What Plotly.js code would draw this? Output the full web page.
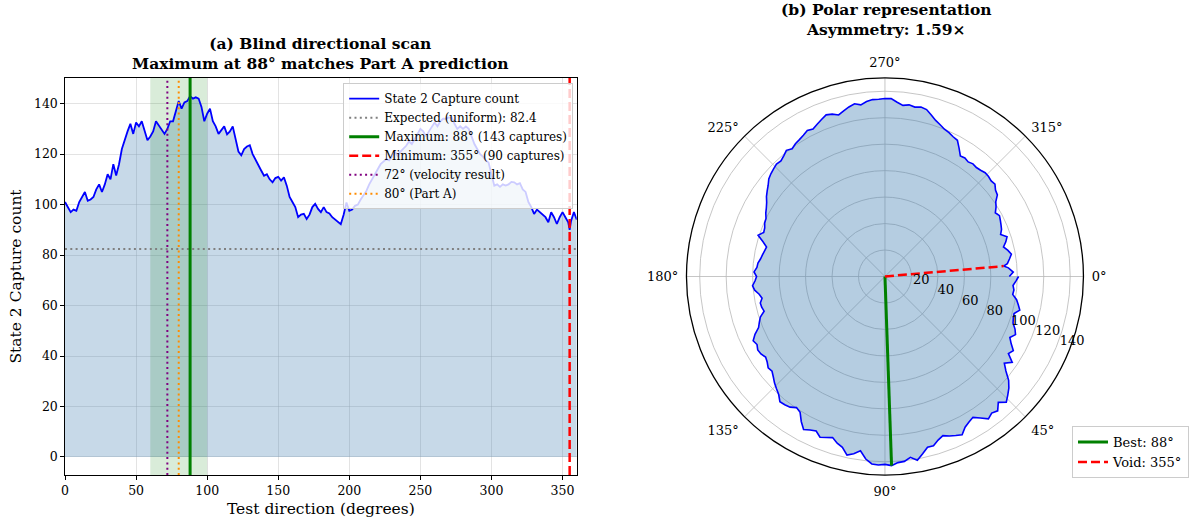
<!DOCTYPE html>
<html>
<head>
<meta charset="utf-8">
<script src="https://cdn.plot.ly/plotly-3.0.1.min.js"></script>
<style>html,body{margin:0;padding:0;background:#fff;}#chart{width:1191px;height:522px;}</style>
</head>
<body>
<div id="chart"></div>
<script>
// Test directions (degrees)
const directions = [0,2,4,6,8,10,12,14,16,18,20,22,24,26,28,30,32,34,36,38,40,42,44,46,48,50,52,54,56,58,
60,62,64,66,68,70,72,74,76,78,80,82,84,86,88,90,92,94,96,98,100,102,104,106,108,110,112,114,116,118,
120,122,124,126,128,130,132,134,136,138,140,142,144,146,148,150,152,154,156,158,160,162,164,166,168,170,172,174,176,178,
180,182,184,186,188,190,192,194,196,198,200,202,204,206,208,210,212,214,216,218,220,222,224,226,228,230,232,234,236,238,
240,242,244,246,248,250,252,254,256,258,260,262,264,266,268,270,272,274,276,278,280,282,284,286,288,290,292,294,296,298,
300,302,304,306,308,310,312,314,316,318,320,322,324,326,328,330,332,334,336,338,340,342,344,346,348,350,352,354,355,356,358,360];
// State 2 capture counts
const captures = [101,99,97,98,97.5,101,103,105,101.5,102,103,106,108,105,108,112,110,116,111.5,116,
122,126,129,132,128,132.5,131,133,129,125.5,127,129,133,131.5,130,128,130,133,133,137,
141,138,140.5,141,143,142,142.5,142,138.7,133,136,138,133,131,128,129.5,131,127.8,129,131,
126.5,121,119.5,122,123,123.5,120,118,116,113.5,111.4,112,110,108.8,110.5,111,109.5,110.8,107.5,103,
101,99,95,96,96.3,94.3,96,99,100.3,98.3,97,99,97,96.5,95,94,93,92.2,96,100.8,
97.5,98,99.5,100,102,103.5,105.4,108,110,112,114.6,116,117,118,117.5,119,121,119.3,121,122,
123.3,125,124,126,128,130,129,127,129,131,132.5,131,133,134,134,134.5,134.5,132,130,131,
130,131,130,127,124,122,120,119,117.5,116.6,112,107.5,108,107,108,107.5,108,109,108.8,108,
108.5,106,105,101,99,96.3,98,97,96,95,93,97,95,92.3,95,97,95,93,90,93.5,97,94];

const expectedUniform = 82.4;
const bestDir = 88, bestCount = 143;
const voidDir = 355, voidCount = 90;
const velocityDir = 72;
const partADir = 80;
const bandRange = [60, 100];
const yRange = [-7.15, 150.15];
const xRange = [0, 360];
const xTicks = [0,50,100,150,200,250,300,350];
const yTicks = [0,20,40,60,80,100,120,140];
const angTicks = [0,45,90,135,180,225,270,315];
const radTicks = [20,40,60,80,100,120,140];

const FONT = 'DejaVu Serif';
const dot = '2px,3.3px';

const traces = [
  {x: directions, y: captures, type:'scatter', mode:'lines', fill:'tozeroy',
   fillcolor:'rgba(70,130,180,0.3)', line:{width:0, color:'rgba(0,0,0,0)'}, showlegend:false, hoverinfo:'skip'},
  {x:[bandRange[0],bandRange[1],bandRange[1],bandRange[0],bandRange[0]], y:[yRange[0],yRange[0],yRange[1],yRange[1],yRange[0]],
   type:'scatter', mode:'lines', fill:'toself', fillcolor:'rgba(0,128,0,0.15)', line:{width:0,color:'rgba(0,0,0,0)'}, showlegend:false, hoverinfo:'skip'},
  {x: directions, y: captures, type:'scatter', mode:'lines', name:'State 2 Capture count', line:{color:'blue', width:1.8}},
  {x: xRange, y:[expectedUniform, expectedUniform], type:'scatter', mode:'lines', name:'Expected (uniform): ' + expectedUniform,
   line:{color:'gray', width:2, dash:dot}},
  {x:[bestDir,bestDir], y:yRange, type:'scatter', mode:'lines', name:'Maximum: '+bestDir+'° ('+bestCount+' captures)',
   line:{color:'green', width:3}},
  {x:[voidDir,voidDir], y:yRange, type:'scatter', mode:'lines', name:'Minimum: '+voidDir+'° ('+voidCount+' captures)',
   line:{color:'red', width:2.5, dash:'9px,4px'}},
  {x:[velocityDir,velocityDir], y:yRange, type:'scatter', mode:'lines', name:velocityDir+'° (velocity result)',
   line:{color:'purple', width:2, dash:dot}},
  {x:[partADir,partADir], y:yRange, type:'scatter', mode:'lines', name:partADir+'° (Part A)',
   line:{color:'darkorange', width:2, dash:dot}},
  // polar
  {type:'scatterpolar', theta: directions, r: captures, mode:'lines', fill:'toself',
   fillcolor:'rgba(70,130,180,0.4)', line:{color:'blue', width:1.6}, showlegend:false, subplot:'polar'},
  {type:'scatterpolar', theta:[bestDir,bestDir], r:[0,bestCount], mode:'lines', name:'Best: '+bestDir+'°',
   line:{color:'green', width:3}, legend:'legend2', subplot:'polar'},
  {type:'scatterpolar', theta:[voidDir,voidDir], r:[0,voidCount], mode:'lines', name:'Void: '+voidDir+'°',
   line:{color:'red', width:2.5, dash:'9px,4px'}, legend:'legend2', subplot:'polar'}
];

const layout = {
  width:1191, height:522,
  paper_bgcolor:'white', plot_bgcolor:'white',
  font:{family:FONT, size:12.5, color:'#000'},
  margin:{l:65, r:2, t:78, b:47},
  xaxis:{domain:[0,0.4553], range:xRange, tickvals:xTicks, showgrid:true, gridcolor:'rgba(176,176,176,0.35)',
    showline:true, mirror:true, linecolor:'#000', linewidth:1.2, ticks:'outside', ticklen:3.5, tickcolor:'#000',
    tickfont:{family:FONT, size:12.5},
    zeroline:false, title:{text:'Test direction (degrees)', font:{family:FONT, size:15.5}, standoff:6}},
  yaxis:{range:yRange, tickvals:yTicks, showgrid:true, gridcolor:'rgba(176,176,176,0.35)',
    showline:true, mirror:true, linecolor:'#000', linewidth:1.2, ticks:'outside', ticklen:3.5, tickcolor:'#000',
    tickfont:{family:FONT, size:12.5},
    zeroline:false, title:{text:'State 2 Capture count', font:{family:FONT, size:15.5}, standoff:8}},
  polar:{domain:{x:[0.5515,0.9075], y:[0.0,1.0]}, bgcolor:'white',
    angularaxis:{rotation:0, direction:'clockwise', tickmode:'array', tickvals:angTicks,
      ticktext:angTicks.map(a=>a+'°'), showline:true, linecolor:'#000', linewidth:1.3,
      gridcolor:'#b8b8b8', gridwidth:0.8, ticks:'outside', ticklen:5, tickcolor:'rgba(0,0,0,0)',
      tickfont:{family:FONT, size:13}},
    radialaxis:{range:[0,150], tickvals:radTicks, angle:-22.5, tickangle:-22.5, side:'counterclockwise',
      showline:false, ticks:'', gridcolor:'#b8b8b8', gridwidth:0.8, tickfont:{family:FONT, size:13}}},
  legend:{x:0.2475, y:0.987, xanchor:'left', yanchor:'top', bgcolor:'rgba(255,255,255,0.8)',
    bordercolor:'#cccccc', borderwidth:1, font:{family:FONT, size:12}, tracegroupgap:0},
  legend2:{x:1.0, y:0.123, xanchor:'right', yanchor:'top', bgcolor:'rgba(255,255,255,0.8)',
    bordercolor:'#cccccc', borderwidth:1, font:{family:FONT, size:13}},
  annotations:[
    {text:'<b>(a) Blind directional scan<br>Maximum at 88° matches Part A prediction</b>', xref:'paper', yref:'paper',
     x:0.2275, y:1.008, xanchor:'center', yanchor:'bottom', showarrow:false, font:{family:FONT, size:15.5}},
    {text:'<b>(b) Polar representation<br>Asymmetry: 1.59×</b>', xref:'paper', yref:'paper',
     x:0.7306, y:1.092, xanchor:'center', yanchor:'bottom', showarrow:false, font:{family:FONT, size:15.5}}
  ]
};

Plotly.newPlot('chart', traces, layout, {displayModeBar:false, staticPlot:true});
</script>
</body>
</html>
